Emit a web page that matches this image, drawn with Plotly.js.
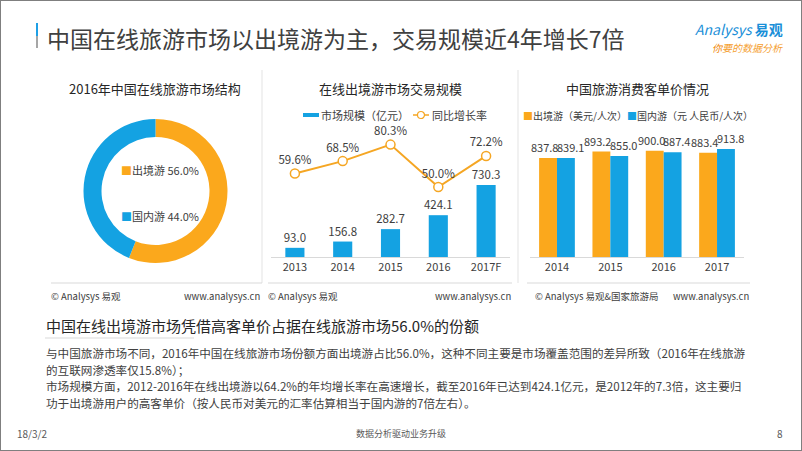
<!DOCTYPE html>
<html><head><meta charset="utf-8">
<script src="https://cdn.plot.ly/plotly-3.0.1.min.js"></script>
<style>html,body{margin:0;padding:0;background:#fff}#chart{width:802px;height:451px}</style>
</head><body><div id="chart"></div>
<script>
// ---- data ----
const pieLabels = ['出境游', '国内游'];
const pieValues = [56.0, 44.0];

const scaleYears = ['2013', '2014', '2015', '2016', '2017F'];
const scaleValues = [93.0, 156.8, 282.7, 424.1, 730.3];
const growthRates = [59.6, 68.5, 80.3, 50.0, 72.2];

const priceYears = ['2014', '2015', '2016', '2017'];
const outboundPrice = [837.8, 893.2, 900.0, 883.4];
const domesticPrice = [839.1, 855.0, 887.4, 913.8];

// ---- style ----
const W = 802, H = 451;
const X = p => p / W, Y = p => 1 - p / H;
const ORANGE = '#FBA81C', BLUE = '#14A2E2', LINE = '#F5A623';
const FONT = '"Noto Sans CJK SC", "Open Sans", sans-serif';
const DARK = '#262626', TXT = '#404040';

const traces = [
  {type: 'pie', labels: pieLabels, values: pieValues, hole: 0.75, sort: false,
   direction: 'clockwise', rotation: 0, textinfo: 'none', hoverinfo: 'none',
   marker: {colors: [ORANGE, BLUE], line: {width: 0}},
   domain: {x: [X(83), X(228)], y: [Y(263), Y(119)]}, showlegend: false},
  {type: 'bar', x: scaleYears, y: scaleValues, xaxis: 'x', yaxis: 'y',
   width: 0.4, offset: -0.2, marker: {color: BLUE},
   text: scaleValues.map(v => v.toFixed(1)), textposition: 'outside',
   constraintext: 'none', cliponaxis: false,
   textfont: {size: 11.5, color: TXT, family: FONT}, hoverinfo: 'none'},
  {type: 'scatter', x: scaleYears, y: growthRates, xaxis: 'x', yaxis: 'y2',
   mode: 'lines+markers+text', line: {color: LINE, width: 2},
   marker: {size: 9, color: '#fff', line: {color: LINE, width: 1.5}},
   text: growthRates.map(v => v.toFixed(1) + '%'), textposition: 'top center',
   cliponaxis: false, textfont: {size: 11.5, color: TXT, family: FONT}, hoverinfo: 'none'},
  {type: 'bar', x: priceYears, y: outboundPrice, xaxis: 'x2', yaxis: 'y3',
   marker: {color: ORANGE}, hoverinfo: 'none'},
  {type: 'bar', x: priceYears, y: domesticPrice, xaxis: 'x2', yaxis: 'y3',
   marker: {color: BLUE}, hoverinfo: 'none'}
];

function ann(text, x, y, size, color, xanchor, extra) {
  return Object.assign({text: text, x: X(x), y: Y(y), xref: 'paper', yref: 'paper',
    xanchor: xanchor || 'left', yanchor: 'middle', showarrow: false, borderpad: 0,
    font: {size: size, color: color, family: FONT}}, extra || {});
}
function hline(x0, x1, y, color, w) {
  return {type: 'line', xref: 'paper', yref: 'paper', x0: X(x0), x1: X(x1), y0: Y(y), y1: Y(y),
    line: {color: color, width: w || 1}};
}
function vline(x, y0, y1, color, w) {
  return {type: 'line', xref: 'paper', yref: 'paper', x0: X(x), x1: X(x), y0: Y(y0), y1: Y(y1),
    line: {color: color, width: w || 1}};
}

const annotations = [
  ann('中国在线旅游市场以出境游为主，交易规模近4年增长7倍', 46, 38, 23, '#404040'),
  ann('<i>Analysys</i> <b>易观</b>', 784, 29, 14, '#1A8FD8', 'right'),
  ann('<i><span style="color:#F08300">你</span>要的数据分析</i>', 784, 47, 10, '#F5A030', 'right'),
  // panel titles
  ann('2016年中国在线旅游市场结构', 155, 89, 13, DARK, 'center'),
  ann('在线出境游市场交易规模', 390, 89, 13, DARK, 'center'),
  ann('中国旅游消费客单价情况', 637, 89, 13, DARK, 'center'),
  // donut legend
  ann('<span style="color:' + ORANGE + '">■</span>出境游 56.0%', 120, 170, 11, TXT),
  ann('<span style="color:' + BLUE + '">■</span>国内游 44.0%', 120, 216, 11, TXT),
  // panel 2 legend
  ann('市场规模（亿元）', 320, 115, 11, TXT),
  ann('同比增长率', 431, 115, 11, TXT),
  // panel 3 legend
  ann('<span style="color:' + ORANGE + '">■</span>出境游（美元/人次）<span style="color:' + BLUE + '">■</span>国内游（元 人民币/人次）', 522, 115, 10, TXT),
  // footers
  ann('© Analysys 易观', 50, 296, 9.5, TXT),
  ann('www.analysys.cn', 261, 296, 9.5, TXT, 'right'),
  ann('© Analysys 易观', 267, 296, 9.5, TXT),
  ann('www.analysys.cn', 512, 296, 9.5, TXT, 'right'),
  ann('© Analysys 易观&国家旅游局', 534, 296, 9.5, TXT),
  ann('www.analysys.cn', 750, 296, 9.5, TXT, 'right'),
  // text block
  ann('中国在线出境游市场凭借高客单价占据在线旅游市场56.0%的份额', 45, 325, 15, '#262626'),
  ann('与中国旅游市场不同，2016年中国在线旅游市场份额方面出境游占比56.0%，这种不同主要是市场覆盖范围的差异所致（2016年在线旅游', 45, 353, 11.6, TXT),
  ann('的互联网渗透率仅15.8%）；', 45, 370, 11.6, TXT),
  ann('市场规模方面，2012-2016年在线出境游以64.2%的年均增长率在高速增长，截至2016年已达到424.1亿元，是2012年的7.3倍，这主要归', 45, 386, 11.6, TXT),
  ann('功于出境游用户的高客单价（按人民币对美元的汇率估算相当于国内游的7倍左右）。', 45, 403, 11.6, TXT),
  // page footer
  ann('18/3/2', 16, 433, 10, '#595959'),
  ann('数据分析驱动业务升级', 401, 433, 9, '#595959', 'center'),
  ann('8', 780, 433, 10, '#595959', 'center')
];

// panel 3 value labels, placed through the data axes
const GROUP_OFF = 0.17; // half bar width in category units (bargap 0.33, two bars)
priceYears.forEach((yr, i) => {
  annotations.push({x: i - GROUP_OFF, y: outboundPrice[i], xref: 'x2', yref: 'y3',
    text: outboundPrice[i].toFixed(1), showarrow: false, xanchor: 'center', yanchor: 'bottom',
    xshift: -3.5, yshift: 2, borderpad: 0, font: {size: 11, color: TXT, family: FONT}});
  annotations.push({x: i + GROUP_OFF, y: domesticPrice[i], xref: 'x2', yref: 'y3',
    text: domesticPrice[i].toFixed(1), showarrow: false, xanchor: 'center', yanchor: 'bottom',
    xshift: 4, yshift: 2, borderpad: 0, font: {size: 11, color: TXT, family: FONT}});
});

const shapes = [
  {type: 'rect', xref: 'paper', yref: 'paper', x0: 0, x1: 1, y0: 0, y1: 1,
   line: {color: '#7F7F7F', width: 2}},
  vline(37, 23, 36, '#1EA0E6', 2),
  vline(37, 36, 48, '#A6A6A6', 2),
  vline(262, 70, 283, '#E3E3E3'),
  vline(518, 70, 283, '#E3E3E3'),
  hline(51, 262, 283, '#D9D9D9'),
  hline(268, 512, 283, '#D9D9D9'),
  hline(527, 750, 283, '#D9D9D9'),
  hline(45, 194, 338, '#D9D9D9'),
  // panel 2 legend swatches
  {type: 'rect', xref: 'paper', yref: 'paper', x0: X(303), x1: X(319), y0: Y(117), y1: Y(113),
   fillcolor: BLUE, line: {width: 0}},
  hline(413, 429, 115, LINE, 1.5),
  {type: 'circle', xref: 'paper', yref: 'paper', x0: X(417.5), x1: X(424.5), y0: Y(118.5), y1: Y(111.5),
   fillcolor: '#fff', line: {color: LINE, width: 1.2}}
];

const axisX = {type: 'category', showline: true, linecolor: '#D9D9D9', linewidth: 1, showgrid: false, zeroline: false,
  ticks: '', tickfont: {size: 11, color: TXT, family: FONT}, fixedrange: true};

const layout = {
  width: W, height: H, margin: {l: 0, r: 0, t: 0, b: 0},
  paper_bgcolor: '#fff', plot_bgcolor: 'rgba(0,0,0,0)', showlegend: false,
  font: {family: FONT, color: TXT},
  barmode: 'group', bargap: 0.33, bargroupgap: 0,
  xaxis: Object.assign({domain: [X(271), X(510)], anchor: 'y', range: [-0.5, 4.5]}, axisX),
  yaxis: {domain: [Y(257), Y(125)], range: [0, 1339], visible: false, fixedrange: true},
  yaxis2: {overlaying: 'y', range: [0, 94.3], visible: false, fixedrange: true},
  xaxis2: Object.assign({domain: [X(530.3), X(743.7)], anchor: 'y3', range: [-0.5, 3.5]}, axisX),
  yaxis3: {domain: [Y(257), Y(125)], range: [0, 1118], visible: false, anchor: 'x2', fixedrange: true},
  annotations: annotations, shapes: shapes
};

Plotly.newPlot('chart', traces, layout, {displayModeBar: false, staticPlot: true});
</script></body></html>
